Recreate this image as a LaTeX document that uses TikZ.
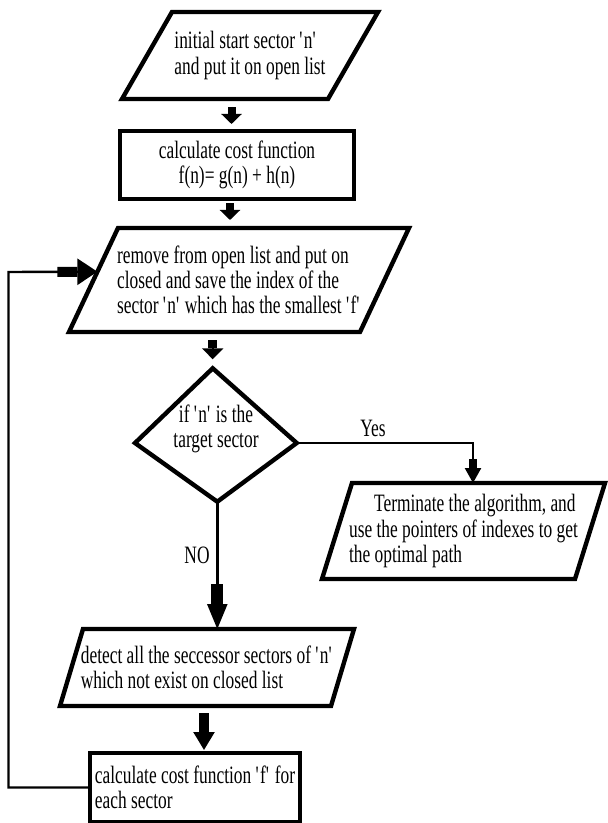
\documentclass[tikz,border=0pt]{standalone}
\usepackage{fontspec}
\setmainfont{Liberation Serif}[FakeStretch=0.695]
\usepackage{tikz}
\usetikzlibrary{arrows.meta,positioning,calc}
\newcommand{\qt}{\textquotesingle}
% параллелограмм вокруг узла: #1 -- имя, #2 -- половина скоса
\newcommand{\drawpara}[2]{%
  \draw[border] ([xshift=#2]#1.north west) -- ([xshift=#2]#1.north east)
    -- ([xshift=-#2]#1.south east) -- ([xshift=-#2]#1.south west) -- cycle;}

\begin{document}
\begin{tikzpicture}[x=0.5pt, y=-0.5pt,
  every node/.style={font=\fontsize{12.5pt}{12.6pt}\selectfont},
  border/.style={line width=2.2pt},
  io/.style={outer sep=0pt, inner xsep=0pt, align=left},
  proc/.style={draw, border, outer sep=0pt, inner xsep=0pt, rectangle},
  link/.style={line width=1.2pt},
  fat/.style n args={4}{-{Rectangle[length=#1,width=#2,sep=0pt]Triangle[length=#3,width=#4,sep=0pt]}}]
  % рамка картинки
  \useasboundingbox (0,0) rectangle (608,823);

  % блоки
  \node[io, minimum width=103pt, minimum height=43.5pt]
    (start) at (250,55.5) {initial start sector \qt n\qt\\and put it on open list};
  \drawpara{start}{12.5pt}
  \node[proc, align=center, minimum width=117pt, minimum height=34pt]
    (cost) at (237,165) {calculate cost function\\f(n)= g(n) + h(n)};
  \node[io, minimum width=145.5pt, minimum height=52pt]
    (pick) at (239,280) {remove from open list and put on\\closed and save the index of the\\sector \qt n\qt{} which has the smallest \qt f\qt};
  \drawpara{pick}{12.25pt}
  \node[io, minimum width=126.5pt, minimum height=48pt]
    (stop) at (463.5,531) {\hspace*{12.5pt}Terminate the algorithm, and\\use the pointers of indexes to get\\the optimal path};
  \drawpara{stop}{7.5pt}
  \node[io, minimum width=135.5pt, minimum height=38.5pt]
    (succ) at (207,667.5) {detect all the seccessor sectors of \qt n\qt\\which not exist on closed list};
  \drawpara{succ}{5.75pt}
  \node[proc, line width=1.8pt, align=left, minimum width=105pt, minimum height=34.5pt]
    (each) at (195,787.5) {calculate cost function \qt f\qt{} for\\each sector};

  % ромб условия
  \coordinate (dtop) at (212.7,368.3);
  \coordinate (dright) at (296.7,443);
  \coordinate (dbot) at (217.3,501.7);
  \coordinate (dleft) at (135,443);
  \draw[border] (dtop) -- (dright) -- (dbot) -- (dleft) -- cycle;
  \node[align=center] (ask) at (216,429) {if \qt n\qt{} is the\\target sector};

  % стрелки
  \draw[link, fat={3.5pt}{4pt}{5pt}{10pt}, shorten <=4pt, shorten >=3.5pt]
    ([xshift=-2.75pt]cost.north |- start.south) -- ([xshift=-2.75pt]cost.north);
  \draw[link, fat={3.5pt}{4pt}{5pt}{10pt}, shorten <=2pt, shorten >=4pt]
    ([xshift=-3.5pt]cost.south) -- ([xshift=-3.5pt]cost.south |- pick.north);
  \draw[link, fat={4pt}{4.5pt}{5.5pt}{10.5pt}, shorten <=4pt, shorten >=4.5pt]
    (pick.south -| dtop) -- (dtop);
  \draw[link, fat={4.5pt}{4pt}{7.5pt}{8pt}] (dright) -| ([xshift=4.75pt]stop.north);
  \draw[link, fat={10pt}{6pt}{12.5pt}{10pt}] (dbot) -- (dbot |- succ.north);
  \draw[link, fat={9.5pt}{5pt}{9pt}{10.5pt}, shorten <=3.5pt, shorten >=1.5pt]
    ([xshift=4.5pt]each.north |- succ.south) -- ([xshift=4.5pt]each.north);

  % обратная связь
  \coordinate (loopin) at ($([xshift=12.25pt]pick.north west)!0.42!([xshift=-12.25pt]pick.south west)$);
  \coordinate (loopturn) at (8.5,272);
  \draw[link, fat={10pt}{5pt}{10pt}{13pt}] (each.west) -| (loopturn) -- (loopin);

  \node (yes) at (373,428) {Yes};
  \node (no) at (197,555) {NO};
\end{tikzpicture}
\end{document}
